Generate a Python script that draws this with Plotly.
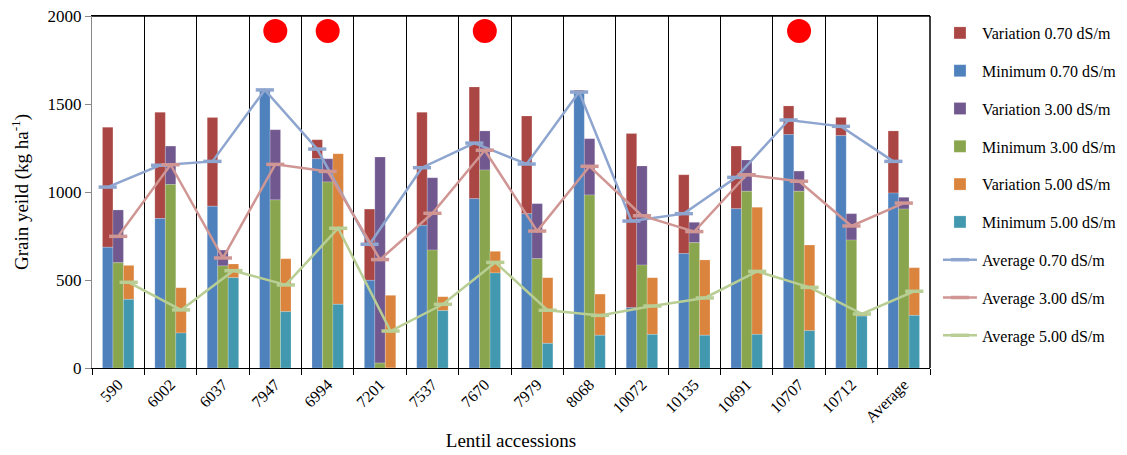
import plotly.graph_objects as go

accessions = ["590", "6002", "6037", "7947", "6994", "7201", "7537", "7670",
              "7979", "8068", "10072", "10135", "10691", "10707", "10712", "Average"]

# salinity 0.70 dS/m
min_070 = [686, 849, 919, 1580, 1189, 498, 811, 962, 877, 1562, 343, 650, 905, 1326, 1320, 994]
var_070 = [682, 604, 505, 5, 108, 405, 642, 635, 555, 17, 990, 448, 356, 163, 104, 353]
avg_070 = [1028, 1152, 1174, 1580, 1244, 703, 1138, 1278, 1159, 1568, 835, 877, 1083, 1409, 1373, 1174]

# salinity 3.00 dS/m
min_300 = [598, 1042, 580, 955, 1057, 28, 670, 1125, 621, 983, 585, 712, 1004, 1004, 727, 903]
var_300 = [300, 219, 90, 399, 132, 1171, 411, 222, 313, 320, 563, 116, 178, 115, 150, 67]
avg_300 = [748, 1155, 625, 1157, 1117, 616, 879, 1237, 778, 1146, 865, 775, 1098, 1061, 807, 937]

# salinity 5.00 dS/m
min_500 = [390, 199, 513, 320, 362, 0, 326, 540, 140, 186, 191, 186, 191, 212, 295, 299]
var_500 = [193, 257, 78, 301, 856, 413, 79, 123, 373, 234, 322, 428, 722, 487, 12, 271]
avg_500 = [487, 330, 553, 472, 794, 210, 362, 600, 328, 299, 352, 398, 549, 458, 307, 436]

flagged = ["7947", "6994", "7670", "10707"]

FONT = "Liberation Serif"
idx = list(range(len(accessions)))

levels = [
    ("0.70", min_070, var_070, avg_070, -0.2, "#4F81BD", "#AA4643", "#8EA6CF"),
    ("3.00", min_300, var_300, avg_300, 0.0, "#89A54E", "#71588F", "#D09694"),
    ("5.00", min_500, var_500, avg_500, 0.2, "#4198AF", "#DB843D", "#B8CE94"),
]

fig = go.Figure()

# bars: minimum with variation stacked on top
for name, mins, vars_, avgs, off, cmin, cvar, cavg in levels:
    xs = [i + off for i in idx]
    fig.add_trace(go.Bar(x=xs, y=vars_, base=mins, width=0.2,
                         name="Variation " + name + " dS/m", marker_color=cvar,
                         marker_line=dict(color="rgba(255,255,255,0.4)", width=0.5),
                         legendgroup="v" + name))
    fig.add_trace(go.Bar(x=xs, y=mins, width=0.2,
                         name="Minimum " + name + " dS/m", marker_color=cmin,
                         marker_line=dict(color="rgba(255,255,255,0.4)", width=0.5),
                         legendgroup="m" + name))

# average lines
for name, mins, vars_, avgs, off, cmin, cvar, cavg in levels:
    xs = [i + off for i in idx]
    fig.add_trace(go.Scatter(x=xs, y=avgs, mode="lines+markers",
                             name="Average " + name + " dS/m",
                             line=dict(color=cavg, width=2.5),
                             marker=dict(symbol="line-ew", size=13,
                                         line=dict(color=cavg, width=3.5)),
                             legendgroup="a" + name))

# red flags
fig.add_trace(go.Scatter(x=[accessions.index(a) for a in flagged],
                         y=[1915] * len(flagged), mode="markers",
                         marker=dict(color="#FF0000", size=24),
                         showlegend=False, hoverinfo="skip"))

# page has an 8px body margin, so margins are shifted by that
fig.update_layout(
    barmode="overlay",
    width=1127, height=455,
    margin=dict(l=84, r=205, t=8, b=95),
    plot_bgcolor="white", paper_bgcolor="white",
    font=dict(family=FONT, size=14, color="black"),
    legend=dict(x=1.0095, y=1.0, xanchor="left", yanchor="top",
                traceorder="grouped", tracegroupgap=14, maxheight=1.0,
                font=dict(family=FONT, size=16), itemwidth=34),
)

fig.update_xaxes(
    range=[-0.5, 15.5], automargin=False,
    tickmode="array", tickvals=idx, ticktext=accessions,
    tickangle=-45, ticks="", showgrid=False,
    showline=True, linecolor="black", linewidth=1.2, mirror=True,
    minor=dict(tickmode="linear", tick0=-0.5, dtick=1, ticks="outside",
               ticklen=6, tickcolor="black", showgrid=True,
               gridcolor="black", gridwidth=1.2),
    tickfont=dict(family=FONT, size=16),
    title=dict(text="Lentil accessions", font=dict(family=FONT, size=19), standoff=8),
    zeroline=False,
)

fig.update_yaxes(
    range=[0, 2000], tickvals=[0, 500, 1000, 1500, 2000], automargin=False,
    ticklabeloverflow="allow",
    ticks="outside", ticklen=6, tickcolor="#888888",
    showline=True, linecolor="#888888", linewidth=1.2,
    showgrid=False, zeroline=False,
    tickfont=dict(family=FONT, size=17),
    title=dict(text="Grain yeild (kg ha<sup>-1</sup>)", font=dict(family=FONT, size=19), standoff=16),
)

# top and right border of plot area
fig.add_shape(type="line", xref="paper", yref="paper", x0=1, x1=1, y0=0, y1=1,
              line=dict(color="black", width=1.5))
fig.add_shape(type="line", xref="paper", yref="paper", x0=0, x1=1, y0=1, y1=1,
              line=dict(color="black", width=1.5))

fig.write_html("out.html")
